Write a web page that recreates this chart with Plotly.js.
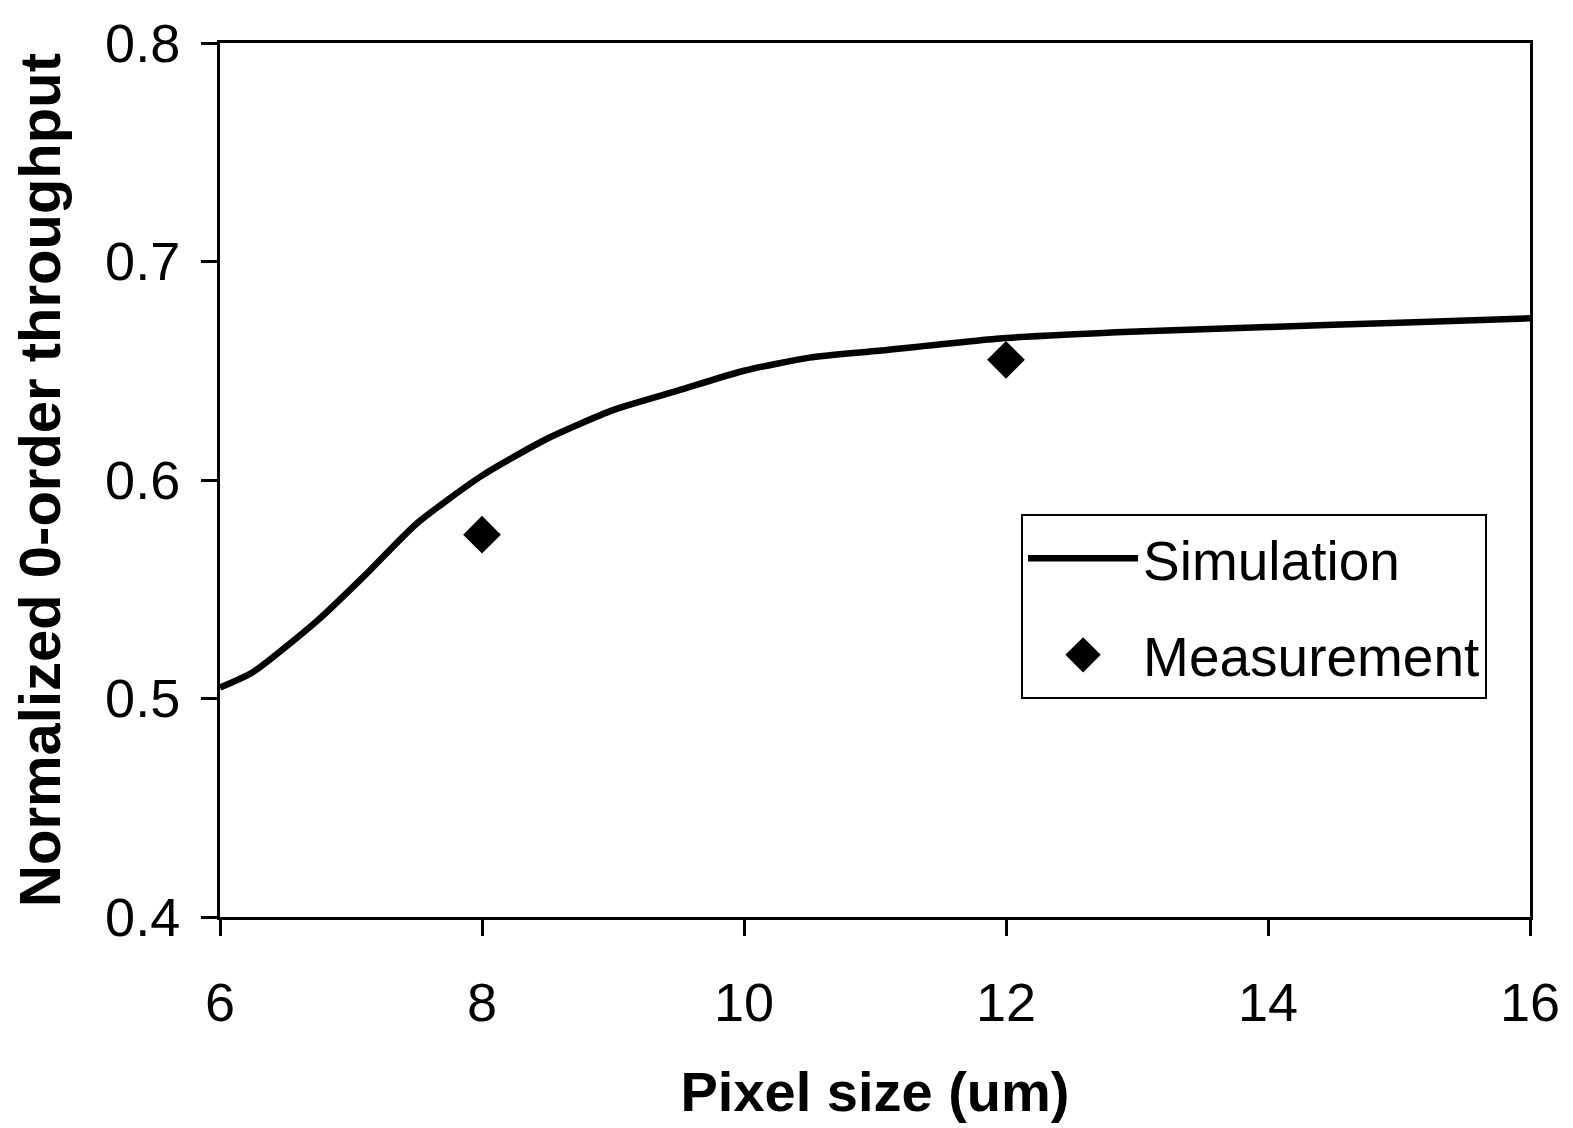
<!DOCTYPE html>
<html>
<head>
<meta charset="utf-8">
<script src="https://cdn.plot.ly/plotly-3.0.1.min.js"></script>
<style>html,body{margin:0;padding:0;background:#fff;}#chart{width:1573px;height:1128px;}</style>
</head>
<body>
<div id="chart"></div>
<script>
// Simulation curve
const simX = [6, 6.25, 6.75, 7.1, 7.5, 8, 8.5, 9, 9.5, 10, 10.5, 11, 12, 13, 14, 15, 16];
const simY = [0.505, 0.512, 0.536, 0.556, 0.580, 0.602, 0.619, 0.632, 0.641, 0.650, 0.656, 0.659, 0.665, 0.668, 0.670, 0.672, 0.674];
// Measurement points
const measX = [8, 12];
const measY = [0.575, 0.655];
const xTicks = [6, 8, 10, 12, 14, 16];
const yTicks = [0.4, 0.5, 0.6, 0.7, 0.8];
const yTickText = ["0.4", "0.5", "0.6", "0.7", "0.8"];

const font = "Liberation Sans, Arial, sans-serif";

const traces = [
  {x: simX, y: simY, mode: "lines", name: "Simulation", legendgroup: "a",
   line: {color: "#000", width: 6.5, shape: "spline", smoothing: 0.6}},
  {x: measX, y: measY, mode: "markers", name: "Measurement", legendgroup: "b",
   marker: {symbol: "diamond", size: 29, color: "#000"}}
];

const layout = {
  width: 1573, height: 1128,
  margin: {l: 220, r: 43, t: 43, b: 211},
  paper_bgcolor: "#fff", plot_bgcolor: "#fff",
  font: {family: font, color: "#000", size: 55},
  showlegend: true,
  legend: {x: 0.6115, y: 0.461, xanchor: "left", yanchor: "top",
    bordercolor: "#000", borderwidth: 2, bgcolor: "#fff",
    traceorder: "grouped", tracegroupgap: 22,
    font: {family: font, size: 55, color: "#000"}, itemwidth: 110},
  xaxis: {range: [6, 16], tickvals: xTicks, ticktext: xTicks.map(String),
    showgrid: false, zeroline: false, showline: true, linecolor: "#000", linewidth: 3, mirror: true,
    ticks: "outside", ticklen: 16, tickwidth: 3, tickcolor: "#000",
    ticklabelstandoff: 20,
    tickfont: {family: font, size: 54},
    title: {text: "<b>Pixel size (um)</b>", font: {family: font, size: 56}, standoff: 42}},
  yaxis: {range: [0.4, 0.8], tickvals: yTicks, ticktext: yTickText,
    showgrid: false, zeroline: false, showline: true, linecolor: "#000", linewidth: 3, mirror: true,
    ticks: "outside", ticklen: 16, tickwidth: 3, tickcolor: "#000",
    ticklabelstandoff: 10,
    tickfont: {family: font, size: 54},
    title: {text: "<b>Normalized 0-order throughput</b>", font: {family: font, size: 58}, standoff: 26}}
};

Plotly.newPlot("chart", traces, layout, {displayModeBar: false, staticPlot: true}).then(function (gd) {
  // enlarge the legend diamond to match the plotted marker size
  gd.querySelectorAll(".legend .legendpoints path.scatterpts").forEach(function (p) {
    const t = p.getAttribute("transform") || "";
    p.setAttribute("transform", t + " scale(1.7)");
  });
});
</script>
</body>
</html>
